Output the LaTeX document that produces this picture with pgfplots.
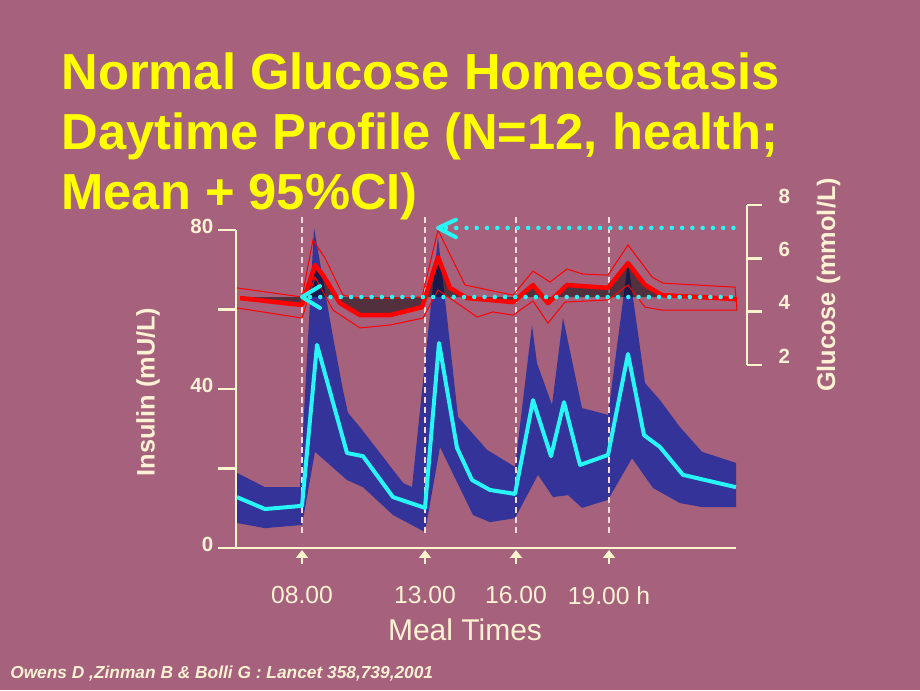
\documentclass[border=0pt]{standalone}
\usepackage{pgfplots}
\pgfplotsset{compat=1.18}
\usetikzlibrary{arrows.meta}
\usepackage{fontspec}
\setmainfont{Liberation Sans}
\definecolor{bg}{RGB}{166,97,124}
\definecolor{ttl}{RGB}{255,255,0}
\definecolor{cream}{RGB}{255,242,212}
\definecolor{axiscream}{RGB}{255,245,205}
\definecolor{band}{RGB}{51,51,153}
\definecolor{cy}{RGB}{40,245,245}
\definecolor{rd}{RGB}{255,0,0}
\definecolor{dashc}{RGB}{245,218,218}
\begin{document}
\begin{tikzpicture}
\fill[bg] (0,0) rectangle (690pt,517.5pt);
% title
\node[anchor=base west, inner sep=0, text=ttl, font=\fontsize{38}{38}\selectfont\bfseries] at (46pt,450pt) {Normal Glucose Homeostasis};
\node[anchor=base west, inner sep=0, text=ttl, font=\fontsize{38}{38}\selectfont\bfseries] at (46pt,405pt) {Daytime Profile (N=12, health;};
\node[anchor=base west, inner sep=0, text=ttl, font=\fontsize{38}{38}\selectfont\bfseries] at (46pt,360pt) {Mean + 95\%CI)};
% axis titles
\node[rotate=90, text=cream, font=\fontsize{19}{19}\selectfont\bfseries] at (111pt,223.5pt) {Insulin (mU/L)};
\node[rotate=90, text=cream, font=\fontsize{19}{19}\selectfont\bfseries] at (621.5pt,303.75pt) {Glucose (mmol/L)};
\node[text=cream, font=\fontsize{22.5}{22.5}\selectfont] at (348.75pt,45pt) {Meal Times};
\node[anchor=base west, inner sep=0, text=cream, font=\fontsize{13}{13}\selectfont\bfseries\itshape] at (7.5pt,9pt) {Owens D ,Zinman B \& Bolli G : Lancet 358,739,2001};

% ---------------- insulin axis ----------------
\begin{axis}[
  at={(177pt,106.5pt)}, anchor=south west, scale only axis,
  width=375pt, height=238.5pt,
  xmin=0, xmax=500, ymin=0, ymax=80,
  axis x line*=bottom, axis y line*=left,
  axis line style={draw=axiscream, line width=2.2pt, -},
  ytick={0,20,40,60,80}, yticklabels={0,,40,,80},
  tick align=outside, major tick length=13.5pt,
  ytick style={draw=axiscream, line width=2.2pt},
  xtick={66,189,280,373}, xticklabels={08.00,13.00,16.00,19.00 h},
  xtick style={draw=none},
  yticklabel style={text=cream, font=\fontsize{15.4}{16}\selectfont\bfseries, yshift=3pt},
  xticklabel style={text=cream, font=\fontsize{18.5}{19}\selectfont, yshift=-12pt},
  clip=false]
% 95% CI band of insulin (upper edge, then lower edge reversed)
\addplot[fill=band, draw=none] coordinates {
 (1,18.9) (29,15.3) (64,15.3) (78,80.5) (97,53.1) (107,39.7) (112,34.0) (124,30.4)
 (144,23.9) (167,16.4) (176,15.3) (202,78.2) (211,58.1) (222,33.0) (251,24.7)
 (279,20.4) (296,56.1) (301,46.5) (316,36.0) (327,57.9) (346,35.2) (372,33.5)
 (392,71.9) (409,41.5) (424,37.2) (444,30.4) (466,24.2) (500,21.4)
 (500,10.3) (466,10.3) (444,11.3) (417,15.1) (396,22.6) (372,12.1) (346,10.1)
 (332,13.3) (317,12.8) (302,18.4) (279,7.5) (254,6.5) (237,8.3) (204,25.4)
 (189,4.0) (157,8.3) (127,15.3) (111,17.1) (79,24.2) (66,5.8) (29,5.0) (1,6.3)} --cycle;
% meal-time dashed lines
\addplot[dashc, line width=0.8pt, dash pattern=on 4.5pt off 3pt] coordinates {(66,3.8) (66,83.8)};
\addplot[dashc, line width=0.8pt, dash pattern=on 4.5pt off 3pt] coordinates {(189,3.8) (189,83.8)};
\addplot[dashc, line width=0.8pt, dash pattern=on 4.5pt off 3pt] coordinates {(280,3.8) (280,83.8)};
\addplot[dashc, line width=0.8pt, dash pattern=on 4.5pt off 3pt] coordinates {(373,3.8) (373,83.8)};
% mean insulin
\addplot[cy, line width=3pt, line join=round] coordinates {
 (1,12.8) (29,9.8) (66,10.6) (81,51.1) (111,23.9) (127,23.1) (157,12.8) (189,10.1)
 (203,51.6) (221,25.2) (236,17.1) (254,14.6) (279,13.6) (297,37.2) (315,23.1)
 (328,36.7) (344,20.9) (372,23.4) (392,48.8) (408,28.4) (424,25.4) (447,18.4) (500,15.3)};
% meal arrows
\pgfplotsinvokeforeach{66,189,280,373}{
  \draw[axiscream, line width=2pt, -{Triangle[width=9pt,length=6pt]}] (axis cs:#1,-4.0) -- (axis cs:#1,-0.5);
}
\end{axis}

% ---------------- glucose axis ----------------
\begin{axis}[
  at={(177pt,243.75pt)}, anchor=south west, scale only axis,
  width=383.25pt, height=120pt,
  xmin=0, xmax=511, ymin=2, ymax=8,
  axis y line*=right, axis x line=none, xtick=\empty,
  axis line style={draw=axiscream, line width=2.2pt, -},
  ytick={2,4,6,8}, yticklabels={2,4,6,8},
  tick align=outside, major tick length=11.25pt,
  ytick style={draw=axiscream, line width=2.2pt},
  yticklabel style={text=cream, font=\fontsize{15.4}{16}\selectfont\bfseries, yshift=6.75pt, xshift=9pt},
  clip=false]
% area between mean glucose and fasting baseline
\addplot[fill=black, fill opacity=0.5, draw=none] coordinates {
 (4,4.51) (66,4.25) (79,5.75) (87,5.37) (104,4.32) (124,3.87) (154,3.87) (186,4.17)
 (202,6.05) (214,4.89) (231,4.51) (244,4.47) (277,4.36) (297,5.0) (312,4.32)
 (331,5.0) (372,4.89) (392,5.82) (409,5.0) (426,4.62) (501,4.47) (501,4.55) (4,4.55)} --cycle;
% 95% CI
\addplot[rd, line width=0.75pt] coordinates {
 (1,4.89) (66,4.55) (77,6.69) (89,6.01) (107,4.62) (124,4.5) (154,4.5) (186,4.55)
 (202,7.06) (229,5.0) (277,4.62) (297,5.52) (314,5.11) (331,5.6) (347,5.41)
 (372,5.37) (392,6.5) (416,5.3) (427,5.07) (499,4.92) (501,4.06)};
\addplot[rd, line width=0.75pt] coordinates {
 (1,4.14) (66,3.76) (79,5.3) (97,4.06) (124,3.39) (154,3.5) (187,3.76) (202,4.81)
 (227,4.17) (241,3.8) (257,3.99) (277,3.87) (297,4.4) (312,3.57) (329,4.36)
 (372,4.44) (392,5.0) (409,4.17) (426,4.06) (501,4.06)};
% mean glucose
\addplot[rd, line width=3.4pt, line join=round] coordinates {
 (4,4.51) (66,4.25) (79,5.75) (87,5.37) (104,4.32) (124,3.87) (154,3.87) (186,4.17)
 (202,6.05) (214,4.89) (231,4.51) (244,4.47) (277,4.36) (297,5.0) (312,4.32)
 (331,5.0) (372,4.89) (392,5.82) (409,5.0) (426,4.62) (501,4.47)};
% cyan dotted reference lines with arrow heads
\addplot[cy, line width=3.4pt, line cap=round, dash pattern=on 0pt off 7.7pt] coordinates {(74,4.55) (502,4.55)};
\addplot[cy, line width=3.4pt, line cap=round, dash pattern=on 0pt off 7.7pt] coordinates {(210,7.14) (502,7.14)};
\addplot[cy, line width=3pt, line cap=round, line join=round] coordinates {(84,4.96) (66,4.55) (84,4.14)};
\addplot[cy, line width=3pt, line cap=round, line join=round] coordinates {(220,7.45) (202,7.14) (220,6.79)};
\end{axis}
\pgfresetboundingbox
\path[use as bounding box] (0,0) rectangle (690pt,517.5pt);
\end{tikzpicture}
\end{document}
